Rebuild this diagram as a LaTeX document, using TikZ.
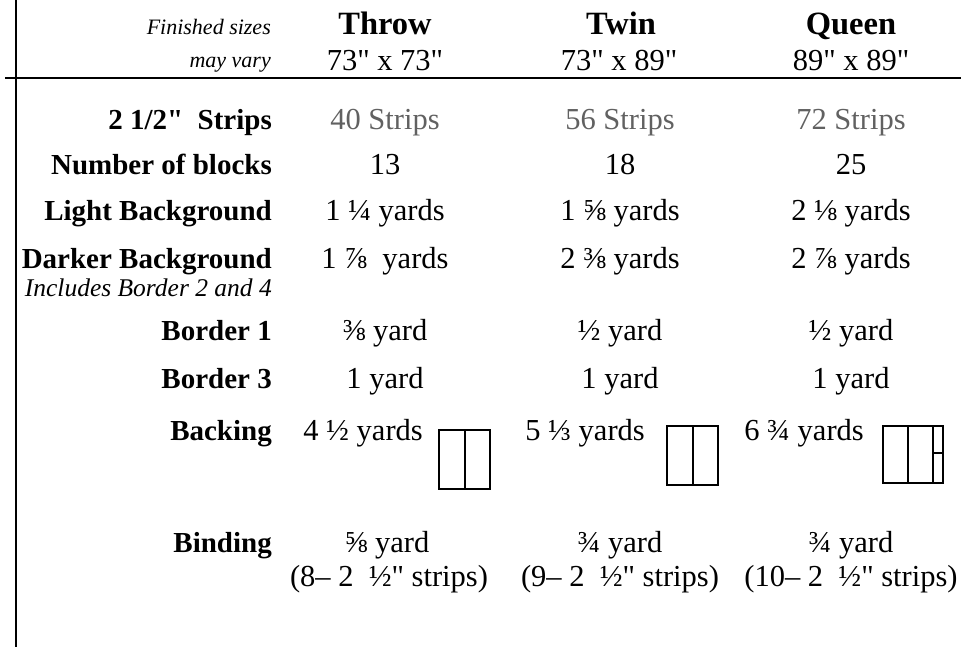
\documentclass[tikz,border=0pt]{standalone}
\usepackage{fontspec}
\setmainfont{Liberation Serif}[Ligatures=TeXOff]
\definecolor{stripgray}{gray}{0.38}
\tikzset{x=1pt, y=-1pt,
	rowlabel/.style={anchor=base east, inner sep=0pt, font=\fontsize{29}{32}\selectfont\bfseries},
	note/.style={anchor=base east, inner sep=0pt, font=\fontsize{22}{26}\selectfont\itshape},
	head/.style={anchor=base, inner sep=0pt, font=\fontsize{32.5}{35}\selectfont\bfseries},
	cell/.style={anchor=base, inner sep=0pt, font=\fontsize{30.5}{33}\selectfont},
	rule/.style={draw=black, line width=1.6pt},
	quilt/.style={draw=black, line width=1.8pt}}

\begin{document}
\begin{tikzpicture}
	\useasboundingbox (0,0) rectangle (961,647);
	% frame lines
	\draw[rule] (16,0) -- (16,647);
	\draw[rule] (5,78) -- (961,78);
	% heading
	\node[note] (fin) at (271,35) {Finished sizes};
	\node[note] (vary) at (271,68) {may vary};
	\node[head] (throw) at (385,35) {Throw};
	\node[head] (twin) at (621,35) {Twin};
	\node[head] (queen) at (851,35) {Queen};
	\begin{scope}[every node/.style={cell}]
		\node (throwsz) at (385,71) {73" x 73"};
		\node (twinsz) at (619,71) {73" x 89"};
		\node (queensz) at (851,71) {89" x 89"};
	\end{scope}
	% row labels
	\node[rowlabel] (strips) at (272,130) {2 1/2"\ \ Strips};
	\node[rowlabel] (blocks) at (272,175) {Number of blocks};
	\node[rowlabel] (light) at (272,221) {Light Background};
	\node[rowlabel] (dark) at (272,268) {Darker Background};
	\node[note, font=\fontsize{25.5}{28}\selectfont\itshape] (incl) at (272,296) {Includes Border 2 and 4};
	\node[rowlabel] (bordera) at (272,340) {Border 1};
	\node[rowlabel] (borderc) at (272,388) {Border 3};
	\node[rowlabel] (backing) at (272,440) {Backing};
	\node[rowlabel] (binding) at (272,552) {Binding};
	% throw
	\begin{scope}[every node/.style={cell}]
		\node[text=stripgray] (throwstr) at (385,130) {40 Strips};
		\node (throwblk) at (385,175) {13};
		\node (throwlt) at (385,221) {1 ¼ yards};
		\node (throwdk) at (385,268) {1 ⅞\ \ yards};
		\node (throwba) at (385,340) {⅜ yard};
		\node (throwbc) at (385,388) {1 yard};
		\node[anchor=base east] (throwbk) at (423,440) {4 ½ yards};
		\node (throwbi) at (387,552) {⅝ yard};
		\node (throwbs) at (389,586) {(8– 2\ \ ½" strips)};
	\end{scope}
	% twin
	\begin{scope}[every node/.style={cell}]
		\node[text=stripgray] (twinstr) at (620,130) {56 Strips};
		\node (twinblk) at (620,175) {18};
		\node (twinlt) at (620,221) {1 ⅝ yards};
		\node (twindk) at (620,268) {2 ⅜ yards};
		\node (twinba) at (620,340) {½ yard};
		\node (twinbc) at (620,388) {1 yard};
		\node[anchor=base east] (twinbk) at (645,440) {5 ⅓ yards};
		\node (twinbi) at (620,552) {¾ yard};
		\node (twinbs) at (620,586) {(9– 2\ \ ½" strips)};
	\end{scope}
	% queen
	\begin{scope}[every node/.style={cell}]
		\node[text=stripgray] (queenstr) at (851,130) {72 Strips};
		\node (queenblk) at (851,175) {25};
		\node (queenlt) at (851,221) {2 ⅛ yards};
		\node (queendk) at (851,268) {2 ⅞ yards};
		\node (queenba) at (851,340) {½ yard};
		\node (queenbc) at (851,388) {1 yard};
		\node[anchor=base east] (queenbk) at (864,440) {6 ¾ yards};
		\node (queenbi) at (851,552) {¾ yard};
		\node (queenbs) at (851,586) {(10– 2\ \ ½" strips)};
	\end{scope}
	% backing layouts
	\draw[quilt] (439,430) rectangle (490,489);
	\draw[quilt] (465,430) -- (465,489);
	\draw[quilt] (667,426) rectangle (718,485);
	\draw[quilt] (693,426) -- (693,485);
	\draw[quilt] (883,426) rectangle (943,483);
	\draw[quilt] (908,426) -- (908,483);
	\draw[quilt] (933,426) -- (933,483);
	\draw[quilt] (933,453) -- (943,453);
\end{tikzpicture}
\end{document}
